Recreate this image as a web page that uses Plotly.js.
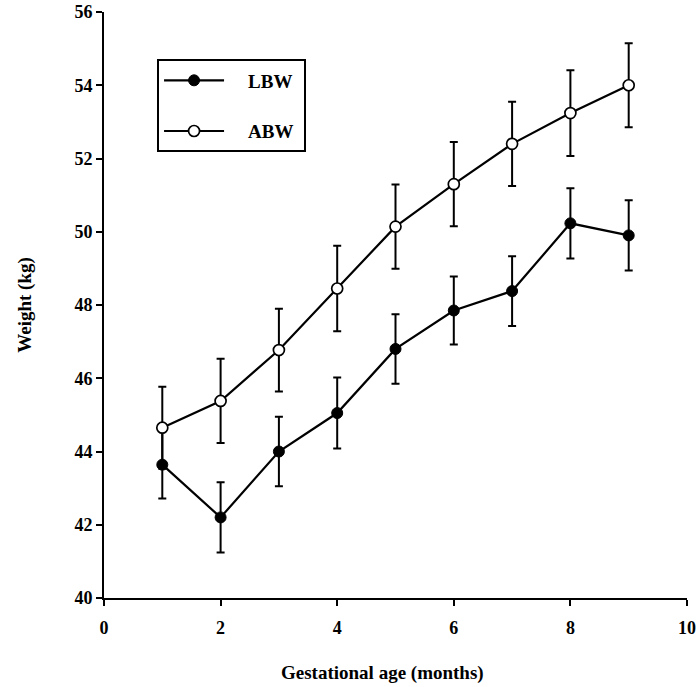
<!DOCTYPE html>
<html>
<head>
<meta charset="utf-8">
<script src="https://cdn.plot.ly/plotly-3.0.1.min.js"></script>
<style>html,body{margin:0;padding:0;background:#fff;}#chart{width:698px;height:687px;}</style>
</head>
<body>
<div id="chart"></div>
<script>
const months = [1, 2, 3, 4, 5, 6, 7, 8, 9];
const lbwMean = [43.64, 42.2, 44.0, 45.05, 46.8, 47.85, 48.38, 50.23, 49.9];
const lbwErr  = [0.92, 0.96, 0.95, 0.97, 0.95, 0.93, 0.95, 0.96, 0.96];
const abwMean = [44.65, 45.38, 46.77, 48.45, 50.14, 51.3, 52.4, 53.24, 54.0];
const abwErr  = [1.12, 1.15, 1.13, 1.17, 1.15, 1.15, 1.15, 1.17, 1.15];
const xTicks = [0, 2, 4, 6, 8, 10];
const yTicks = [40, 42, 44, 46, 48, 50, 52, 54, 56];

const font = 'Liberation Serif, Times New Roman, serif';
const pad = '\u00a0\u00a0\u00a0\u00a0';

const traces = [
  {
    x: months, y: lbwMean, name: pad + 'LBW' + '\u00a0', type: 'scatter', mode: 'lines+markers',
    legendgroup: 'a',
    line: {color: '#000', width: 2.2},
    marker: {symbol: 'circle', size: 11, color: '#000', line: {color: '#000', width: 1}},
    error_y: {type: 'data', array: lbwErr, visible: true, color: '#000', thickness: 2, width: 4}
  },
  {
    x: months, y: abwMean, name: pad + 'ABW' + '\u00a0', type: 'scatter', mode: 'lines+markers',
    legendgroup: 'b',
    line: {color: '#000', width: 2.2},
    marker: {symbol: 'circle', size: 11, color: '#fff', line: {color: '#000', width: 1.7}},
    error_y: {type: 'data', array: abwErr, visible: true, color: '#000', thickness: 2, width: 4}
  }
];

const layout = {
  width: 698, height: 687,
  margin: {l: 104, r: 11, t: 12, b: 89},
  paper_bgcolor: '#fff', plot_bgcolor: '#fff',
  font: {family: font, color: '#000', size: 15},
  showlegend: true,
  legend: {
    x: 0.091, y: 0.919, xanchor: 'left', yanchor: 'top',
    bordercolor: '#000', borderwidth: 2, bgcolor: '#fff',
    traceorder: 'grouped', tracegroupgap: 23,
    font: {family: font, size: 19, color: '#000', weight: 'bold'},
    itemwidth: 60
  },
  xaxis: {
    range: [0, 10], tickvals: xTicks, ticktext: xTicks.map(String),
    showgrid: false, zeroline: false, showline: true, linecolor: '#000', linewidth: 2,
    ticks: 'outside', ticklen: 6, tickwidth: 2, tickcolor: '#000',
    ticklabelstandoff: 6,
    tickfont: {family: font, size: 18, color: '#000', weight: 'bold'}
  },
  yaxis: {
    range: [40, 56], tickvals: yTicks, ticktext: yTicks.map(String),
    showgrid: false, zeroline: false, showline: true, linecolor: '#000', linewidth: 2,
    ticks: 'outside', ticklen: 6, tickwidth: 2, tickcolor: '#000',
    tickfont: {family: font, size: 18, color: '#000', weight: 'bold'},
    title: {text: 'Weight (kg)', font: {family: font, size: 19, color: '#000', weight: 'bold'}, standoff: 38}
  },
  annotations: [{
    text: 'Gestational age (months)', xref: 'paper', yref: 'paper',
    x: 0.477, y: -0.128, xanchor: 'center', yanchor: 'middle', showarrow: false,
    font: {family: font, size: 19, color: '#000', weight: 'bold'}
  }]
};

Plotly.newPlot('chart', traces, layout, {displayModeBar: false, staticPlot: true});
</script>
</body>
</html>
